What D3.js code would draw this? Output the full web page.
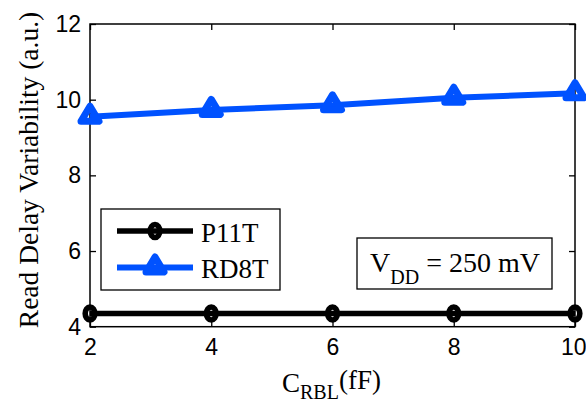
<!DOCTYPE html>
<html>
<head>
<meta charset="utf-8">
<script src="https://cdn.jsdelivr.net/npm/d3@7"></script>
<style>
  html, body { margin: 0; padding: 0; background: #fff; }
  svg { display: block; }
  .serif { font-family: "Liberation Serif", "Times New Roman", serif; fill: #000; }
  .tick-label { font-family: "Liberation Sans", Arial, sans-serif; font-size: 23px; fill: #000; }
</style>
</head>
<body>
<svg id="chart" width="586" height="403"></svg>
<script>
// Bitline capacitance (fF) and read-delay variability (a.u.)
const capacitance = [2, 4, 6, 8, 10];
const p11tValues  = [4.35, 4.35, 4.35, 4.35, 4.35];
const rd8tValues  = [9.55, 9.73, 9.85, 10.05, 10.17];
const xTicks = [2, 4, 6, 8, 10];
const yTicks = [4, 6, 8, 10, 12];
const seriesNames = ["P11T", "RD8T"];

const W = 586, H = 403;
const plot = { left: 90, right: 575, top: 24, bottom: 326.7 };
const BLUE = "#0052ff";

const svg = d3.select("#chart");
svg.append("rect").attr("width", W).attr("height", H).attr("fill", "#fff");

const x = d3.scaleLinear().domain([2, 10]).range([plot.left, plot.right]);
const y = d3.scaleLinear().domain([4, 12]).range([plot.bottom, plot.top]);

// Axes: ticks point inward on all four sides
const tickLen = 6;
const axB = svg.append("g").attr("transform", `translate(0,${plot.bottom})`)
  .call(d3.axisBottom(x).tickValues(xTicks).tickSizeInner(-tickLen).tickSizeOuter(0).tickPadding(12));
const axT = svg.append("g").attr("transform", `translate(0,${plot.top})`)
  .call(d3.axisTop(x).tickValues(xTicks).tickSizeInner(-tickLen).tickSizeOuter(0).tickFormat(""));
const axL = svg.append("g").attr("transform", `translate(${plot.left},0)`)
  .call(d3.axisLeft(y).tickValues(yTicks).tickSizeInner(-tickLen).tickSizeOuter(0).tickPadding(9));
const axR = svg.append("g").attr("transform", `translate(${plot.right},0)`)
  .call(d3.axisRight(y).tickValues(yTicks).tickSizeInner(-tickLen).tickSizeOuter(0).tickFormat(""));

[axB, axT, axL, axR].forEach(g => {
  g.select(".domain").remove();
  g.selectAll(".tick line").attr("stroke", "#000").attr("stroke-width", 1.3);
  g.selectAll(".tick text").attr("class", "tick-label").attr("fill", "#000");
});
axB.selectAll(".tick text").attr("dy", "0.71em");
// the last label sits against the right edge of the page
axB.selectAll(".tick").filter(d => d === 10).select("text").attr("text-anchor", "end").attr("x", 11);

// Plot frame
svg.append("rect")
  .attr("x", plot.left).attr("y", plot.top)
  .attr("width", plot.right - plot.left).attr("height", plot.bottom - plot.top)
  .attr("fill", "none").attr("stroke", "#000").attr("stroke-width", 1.5);

const line = d3.line().x((d, i) => x(capacitance[i])).y(d => y(d));

// Marker shapes: heavy outlines leave only a small hollow centre
const triPath = "M0,-10.5L9,4.5L-9,4.5Z";
function drawCircleMarker(g, cx, cy) {
  g.append("ellipse").attr("cx", cx).attr("cy", cy).attr("rx", 4.8).attr("ry", 6.5)
    .attr("fill", "none").attr("stroke", "#000").attr("stroke-width", 5.6);
}
function drawTriMarker(g, cx, cy) {
  g.append("path").attr("d", triPath).attr("transform", `translate(${cx},${cy})`)
    .attr("fill", "none").attr("stroke", BLUE).attr("stroke-width", 7).attr("stroke-linejoin", "round");
}

// RD8T series
const gR = svg.append("g");
gR.append("path").datum(rd8tValues).attr("d", line)
  .attr("fill", "none").attr("stroke", BLUE).attr("stroke-width", 6);
rd8tValues.forEach((v, i) => drawTriMarker(gR, x(capacitance[i]), y(v)));

// P11T series
const gP = svg.append("g");
gP.append("path").datum(p11tValues).attr("d", line)
  .attr("fill", "none").attr("stroke", "#000").attr("stroke-width", 5.5);
p11tValues.forEach((v, i) => drawCircleMarker(gP, x(capacitance[i]), y(v)));

// Legend
const lg = svg.append("g");
lg.append("rect").attr("x", 101).attr("y", 209).attr("width", 179).attr("height", 81)
  .attr("fill", "#fff").attr("stroke", "#000").attr("stroke-width", 1.3);
const legendRows = [
  { name: seriesNames[0], y: 231, color: "#000", width: 5.5, marker: drawCircleMarker, ty: 242 },
  { name: seriesNames[1], y: 267.5, color: BLUE, width: 6, marker: drawTriMarker, ty: 278 }
];
legendRows.forEach(r => {
  lg.append("line").attr("x1", 117).attr("x2", 193).attr("y1", r.y).attr("y2", r.y)
    .attr("stroke", r.color).attr("stroke-width", r.width);
  r.marker(lg, 155, r.y);
  lg.append("text").attr("class", "serif").attr("x", 201).attr("y", r.ty)
    .attr("font-size", 27).text(r.name);
});

// Supply voltage annotation
const ann = svg.append("g");
ann.append("rect").attr("x", 357).attr("y", 238).attr("width", 195).attr("height", 51)
  .attr("fill", "#fff").attr("stroke", "#000").attr("stroke-width", 1.3);
const annText = ann.append("text").attr("class", "serif").attr("x", 370).attr("y", 272).attr("font-size", 28);
annText.append("tspan").text("V");
annText.append("tspan").attr("font-size", 20).attr("dy", 12).text("DD");
annText.append("tspan").attr("dy", -12).text(" = 250 mV");

// Axis titles
const xt = svg.append("text").attr("class", "serif").attr("x", 282).attr("y", 392).attr("font-size", 27);
xt.append("tspan").text("C");
xt.append("tspan").attr("font-size", 20).attr("dy", 7).text("RBL");
xt.append("tspan").attr("dy", -10).text("(fF)");

svg.append("text").attr("class", "serif")
  .attr("transform", `translate(38,${(10 + 330) / 2}) rotate(-90)`)
  .attr("text-anchor", "middle").attr("font-size", 27.5)
  .text("Read Delay Variability (a.u.)");
</script>
</body>
</html>
